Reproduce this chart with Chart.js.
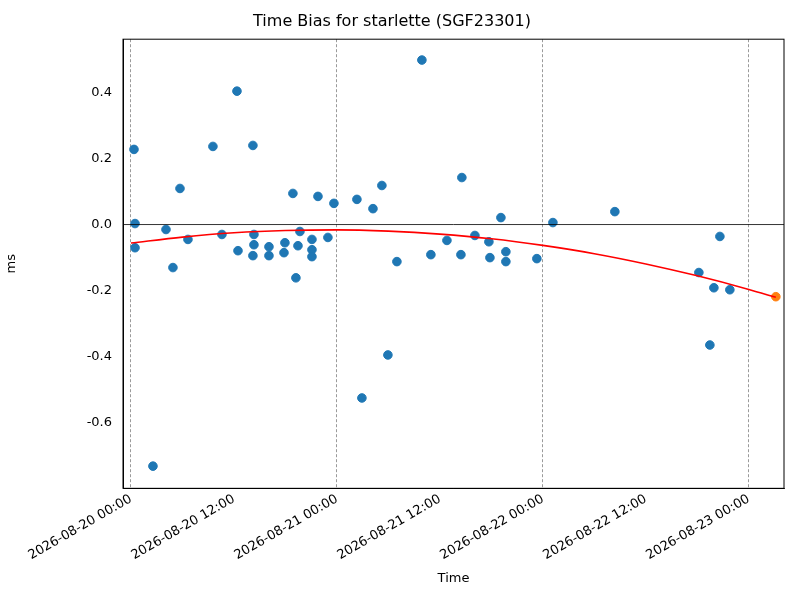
<!DOCTYPE html>
<html>
<head>
<meta charset="utf-8">
<script src="https://cdn.jsdelivr.net/npm/chart.js@4"></script>
<style>
  html, body { margin: 0; padding: 0; background: #fff; }
  #wrap { width: 800px; height: 600px; }
</style>
</head>
<body>
<div id="wrap"><canvas id="chartBias"></canvas></div>
<script>
// hours since 2026-08-20 00:00, bias in ms
const obsHours = [0.35, 0.47, 0.47, 2.56, 4.08, 4.89, 5.71, 6.64, 9.55, 10.6, 12.35, 12.47,
  14.21, 14.33, 14.33, 14.21, 16.08, 16.08, 17.94, 17.83, 18.87, 19.22, 19.46, 19.69,
  21.09, 21.09, 21.09, 21.79, 22.95, 23.65, 26.33, 26.91, 28.2, 29.24, 29.94, 30.99,
  33.9, 34.95, 36.82, 38.45, 38.56, 40.08, 41.71, 41.83, 43.11, 43.69, 43.69, 47.3,
  49.17, 56.39, 66.18, 67.46, 67.93, 68.63, 69.79];
const obsBias = [0.227, 0.003, -0.070, -0.730, -0.015, -0.130, 0.109, -0.045, 0.236, -0.030, 0.403, -0.079,
  0.239, -0.030, -0.061, -0.094, -0.067, -0.094, -0.055, -0.085, 0.094, -0.161, -0.064, -0.021,
  -0.045, -0.076, -0.097, 0.085, -0.039, 0.064, 0.076, -0.524, 0.048, 0.118, -0.394, -0.112,
  0.497, -0.091, -0.048, -0.091, 0.142, -0.033, -0.052, -0.100, 0.021, -0.082, -0.112, -0.103,
  0.006, 0.039, -0.145, -0.364, -0.191, -0.036, -0.197];
const predHours = [75.15];
const predBias = [-0.218];
const fitHours = [0, 6, 12, 18, 24, 30, 36, 42, 48, 54, 60, 66, 72, 75.15];
const fitBias = [-0.056, -0.038, -0.025, -0.018, -0.016, -0.020, -0.029, -0.043, -0.063, -0.088, -0.119, -0.155, -0.196, -0.220];
const xMin = -0.93, xMax = 76.1;
const tickLabels = ['2026-08-20 00:00', '2026-08-20 12:00', '2026-08-21 00:00', '2026-08-21 12:00',
  '2026-08-22 00:00', '2026-08-22 12:00', '2026-08-23 00:00'];

Chart.defaults.font.family = "'DejaVu Sans', sans-serif";
Chart.defaults.font.size = 13;
Chart.defaults.color = '#000';

const pts = (xs, ys) => xs.map((x, i) => ({ x: x, y: ys[i] }));

new Chart(document.getElementById('chartBias'), {
  type: 'scatter',
  data: {
    datasets: [
      { data: pts([xMin, xMax], [0, 0]), showLine: true, borderColor: '#000', borderWidth: 0.8, pointRadius: 0 },
      { data: pts(fitHours, fitBias), showLine: true, borderColor: 'red', borderWidth: 1.6, pointRadius: 0, cubicInterpolationMode: 'monotone' },
      { data: pts(obsHours, obsBias), backgroundColor: '#1f77b4', borderColor: '#1f77b4', pointRadius: 4.3 },
      { data: pts(predHours, predBias), backgroundColor: '#ff7f0e', borderColor: '#ff7f0e', pointRadius: 4.3 }
    ]
  },
  options: {
    responsive: true,
    maintainAspectRatio: false,
    animation: false,
    layout: { padding: { left: 0, right: 16, top: 0, bottom: 10 } },
    plugins: {
      legend: { display: false },
      tooltip: { enabled: false },
      title: { display: true, text: 'Time Bias for starlette (SGF23301)', font: { size: 16, weight: 'normal' }, padding: { top: 12, bottom: 8 } }
    },
    scales: {
      x: {
        type: 'linear', min: xMin, max: xMax,
        afterBuildTicks: s => { s.ticks = tickLabels.map((_, i) => ({ value: i * 12 })); },
        ticks: { maxRotation: 30, minRotation: 30, callback: v => tickLabels[Math.round(v / 12)] },
        grid: {
          color: c => (c.tick && Math.round(c.tick.value) % 24 === 0) ? '#555' : 'rgba(0,0,0,0)',
          lineWidth: 0.6, drawTicks: false, tickLength: 0
        },
        border: { dash: [3, 2], color: '#000' },
        title: { display: true, text: 'Time', font: { size: 13 } }
      },
      y: {
        min: -0.797, max: 0.56,
        afterBuildTicks: s => { s.ticks = [-0.6, -0.4, -0.2, 0, 0.2, 0.4].map(v => ({ value: v })); },
        afterFit: s => { s.width = 123; },
        ticks: { callback: v => v.toFixed(1) },
        grid: { display: false },
        border: { color: '#000' },
        title: { display: true, text: 'ms', font: { size: 13 } }
      }
    }
  },
  plugins: [{
    id: 'frame',
    afterDraw(chart) {
      const a = chart.chartArea, ctx = chart.ctx;
      ctx.save();
      ctx.strokeStyle = '#000'; ctx.lineWidth = 1;
      ctx.strokeRect(a.left, a.top, a.right - a.left, a.bottom - a.top);
      ctx.restore();
    }
  }]
});
</script>
</body>
</html>
